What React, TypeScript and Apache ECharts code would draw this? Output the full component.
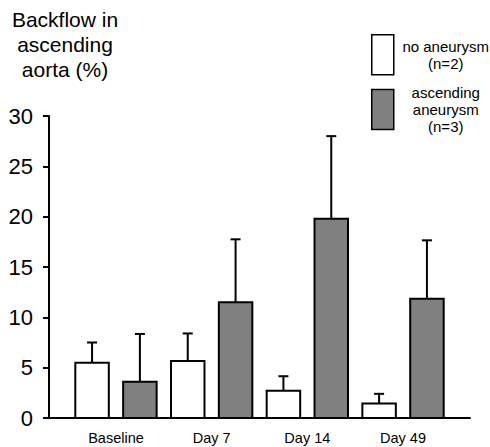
import React, { useEffect, useRef } from "react";
import * as echarts from "echarts";

const categories = ["Baseline", "Day 7", "Day 14", "Day 49"];
const noAneurysmMean = [5.5, 5.65, 2.7, 1.45];
const noAneurysmErr = [2.0, 2.75, 1.45, 0.95];
const aneurysmMean = [3.6, 11.5, 19.8, 11.85];
const aneurysmErr = [4.75, 6.25, 8.2, 5.8];
const yTicks = [0, 5, 10, 15, 20, 25, 30];

const FONT = "'Liberation Sans', Arial, Helvetica, sans-serif";

function makeRender(side: number) {
  return (params: any, api: any) => {
    const xi = api.value(0);
    const v = api.value(1);
    const e = api.value(2);
    const band = api.size([1, 0])[0];
    const cx = api.coord([xi, 0])[0] + side * 0.25 * band;
    const w = 0.35 * band;
    const base = api.coord([xi, 0])[1];
    const top = api.coord([xi, v])[1];
    const errTop = api.coord([xi, v + e])[1];
    const fill = side < 0 ? "#ffffff" : "#808080";
    return {
      type: "group",
      children: [
        {
          type: "line",
          shape: { x1: cx, y1: top, x2: cx, y2: errTop },
          style: { stroke: "#000", lineWidth: 2 },
        },
        {
          type: "line",
          shape: { x1: cx - 5, y1: errTop, x2: cx + 5, y2: errTop },
          style: { stroke: "#000", lineWidth: 2 },
        },
        {
          type: "rect",
          shape: { x: cx - w / 2, y: top, width: w, height: base - top },
          style: { fill, stroke: "#000", lineWidth: 2 },
        },
      ],
    };
  };
}

export default function App() {
  const ref = useRef<HTMLDivElement>(null);
  useEffect(() => {
    if (!ref.current) return;
    const chart = echarts.init(ref.current, null, { renderer: "svg" });
    const legendRich = {
      c: { width: 94, align: "center", fontSize: 15, lineHeight: 17, fontFamily: FONT, color: "#000" },
    };
    chart.setOption({
      animation: false,
      backgroundColor: "#fff",
      title: {
        text: "Backflow in\nascending\naorta (%)",
        left: 65,
        top: 7,
        padding: 0,
        textAlign: "center",
        textStyle: { fontFamily: FONT, fontSize: 21, fontWeight: "normal", color: "#000", lineHeight: 25 },
      },
      legend: {
        orient: "vertical",
        left: 371,
        top: 34,
        padding: 0,
        itemWidth: 22,
        itemHeight: 40,
        itemGap: 9.5,
        icon: "rect",
        selectedMode: false,
        data: [
          { name: "no aneurysm\n(n=2)", itemStyle: { color: "#fff", borderColor: "#000", borderWidth: 1.5 } },
          { name: "ascending\naneurysm\n(n=3)", itemStyle: { color: "#808080", borderColor: "#000", borderWidth: 1.5 } },
        ],
        formatter: (name: string) => name.split("\n").map((l) => `{c|${l}}`).join("\n"),
        textStyle: { fontFamily: FONT, fontSize: 15, color: "#000", rich: legendRich },
      },
      grid: { left: 49, right: 20, top: 116, bottom: 29, containLabel: false },
      xAxis: {
        type: "value",
        min: -0.7,
        max: 3.7,
        splitLine: { show: false },
        axisTick: { show: false },
        axisLine: { show: true, lineStyle: { color: "#000", width: 2 } },
        axisLabel: {
          customValues: [0, 1, 2, 3],
          formatter: (v: number) => categories[Math.round(v)] ?? "",
          fontFamily: FONT,
          fontSize: 14.5,
          color: "#000",
          margin: 12,
        },
      },
      yAxis: {
        type: "value",
        min: 0,
        max: 30,
        interval: 5,
        splitLine: { show: false },
        axisLine: { show: true, onZero: false, lineStyle: { color: "#000", width: 2 } },
        axisTick: { show: true, inside: false, length: 6, lineStyle: { color: "#000", width: 2 } },
        axisLabel: {
          fontFamily: FONT,
          fontSize: 22,
          color: "#000",
          margin: 16,
          customValues: yTicks,
        },
      },
      series: [
        {
          name: "no aneurysm\n(n=2)",
          type: "custom",
          itemStyle: { color: "#fff", borderColor: "#000" },
          renderItem: makeRender(-1),
          encode: { x: 0, y: [1] },
          data: categories.map((_, i) => [i, noAneurysmMean[i], noAneurysmErr[i]]),
        },
        {
          name: "ascending\naneurysm\n(n=3)",
          type: "custom",
          itemStyle: { color: "#808080", borderColor: "#000" },
          renderItem: makeRender(1),
          encode: { x: 0, y: [1] },
          data: categories.map((_, i) => [i, aneurysmMean[i], aneurysmErr[i]]),
        },
      ],
    });
    return () => chart.dispose();
  }, []);
  return (
    <div
      ref={ref}
      style={{ position: "fixed", left: 0, top: 0, width: 490, height: 447, background: "#fff" }}
    />
  );
}
